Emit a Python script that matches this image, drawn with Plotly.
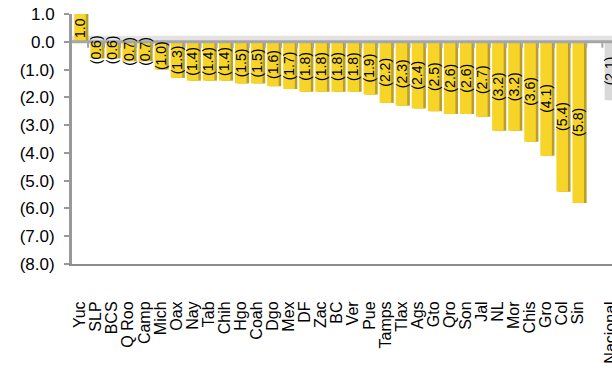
import plotly.graph_objects as go

states = ["Yuc", "SLP", "BCS", "Q Roo", "Camp", "Mich", "Oax", "Nay", "Tab", "Chih",
          "Hgo", "Coah", "Dgo", "Mex", "DF", "Zac", "BC", "Ver", "Pue", "Tamps",
          "Tlax", "Ags", "Gto", "Qro", "Son", "Jal", "NL", "Mor", "Chis", "Gro",
          "Col", "Sin"]
state_values = [1.0, -0.6, -0.6, -0.7, -0.7, -1.0, -1.3, -1.4, -1.4, -1.4,
                -1.5, -1.5, -1.6, -1.7, -1.8, -1.8, -1.8, -1.8, -1.9, -2.2,
                -2.3, -2.4, -2.5, -2.6, -2.6, -2.7, -3.2, -3.2, -3.6, -4.1,
                -5.4, -5.8]
national_label = "Nacional"
national_value = -2.1
gap_label = " "

y_tick_values = [1, 0, -1, -2, -3, -4, -5, -6, -7, -8]

cats = states + [gap_label, national_label]
vals = state_values + [None, national_value]
xs = list(range(len(cats)))


def fmt(v):
    return f"({abs(v):.1f})" if v < 0 else f"{v:.1f}"


yellow = "#F7D528"
yellow_shadow = "#B89E2A"
grey = "#D9D9D9"
grey_shadow = "#B5B5B5"
axis_grey = "#999999"
FONT = "Liberation Sans, Arial, sans-serif"

main_colors = [yellow] * len(states) + [yellow, grey]
shadow_colors = [yellow_shadow] * len(states) + [yellow_shadow, grey_shadow]

W = 0.72
fig = go.Figure()
fig.add_trace(go.Bar(x=xs, y=vals, marker=dict(color=shadow_colors, line=dict(width=0)),
                     width=W, offset=-W / 2 + 0.16, hoverinfo="skip", showlegend=False))
fig.add_trace(go.Bar(x=xs, y=vals, marker=dict(color=main_colors, line=dict(width=0)),
                     width=W, offset=-W / 2, hoverinfo="skip", showlegend=False))

annotations = []
for x, v in zip(xs, vals):
    if v is None:
        continue
    annotations.append(dict(x=x, y=v / 2, text=fmt(v), textangle=-90, showarrow=False,
                            xref="x", yref="y",
                            font=dict(family=FONT, size=14, color="#000")))

shapes = [
    dict(type="rect", xref="paper", yref="y", ysizemode="pixel", yanchor=0,
         x0=0, x1=1, y0=0, y1=6, fillcolor="#E3E3E3", line=dict(width=0), layer="below"),
    dict(type="line", xref="paper", yref="y", x0=0, x1=1, y0=0, y1=0,
         line=dict(color="#A6A6A6", width=3), layer="above"),
]
for i in range(len(cats)):
    shapes.append(dict(type="line", xref="x", yref="y", ysizemode="pixel", yanchor=0,
                       x0=i + 0.5, x1=i + 0.5, y0=0, y1=-6,
                       line=dict(color="#A6A6A6", width=2), layer="above"))

ymin, ymax = -8, 1
fig.update_layout(
    width=612, height=374,
    margin=dict(l=72, r=0, t=14, b=110),
    paper_bgcolor="white", plot_bgcolor="white",
    barmode="overlay",
    annotations=annotations, shapes=shapes,
    font=dict(family=FONT, size=14, color="#000"),
    xaxis=dict(range=[-0.5, 33.1], tickmode="array", tickvals=xs, ticktext=cats,
               tickangle=-90, ticks="", showline=True, ticklabelstandoff=29,
               ticklabeloverflow="allow",
               linecolor="#8C8C8C", linewidth=2, showgrid=False, zeroline=False,
               tickfont=dict(size=16), automargin=False),
    yaxis=dict(range=[ymin, ymax], tickvals=y_tick_values,
               ticktext=[fmt(v) for v in y_tick_values], showgrid=False, zeroline=False,
               showline=True, linecolor=axis_grey, linewidth=3, ticks="outside",
               ticklen=5, tickcolor=axis_grey, tickwidth=2, tickfont=dict(size=17),
               ticklabelstandoff=6, automargin=False),
)

fig.write_html("out.html", config={"displayModeBar": False},
               post_script="document.body.style.margin='0';document.body.style.overflow='hidden';")
